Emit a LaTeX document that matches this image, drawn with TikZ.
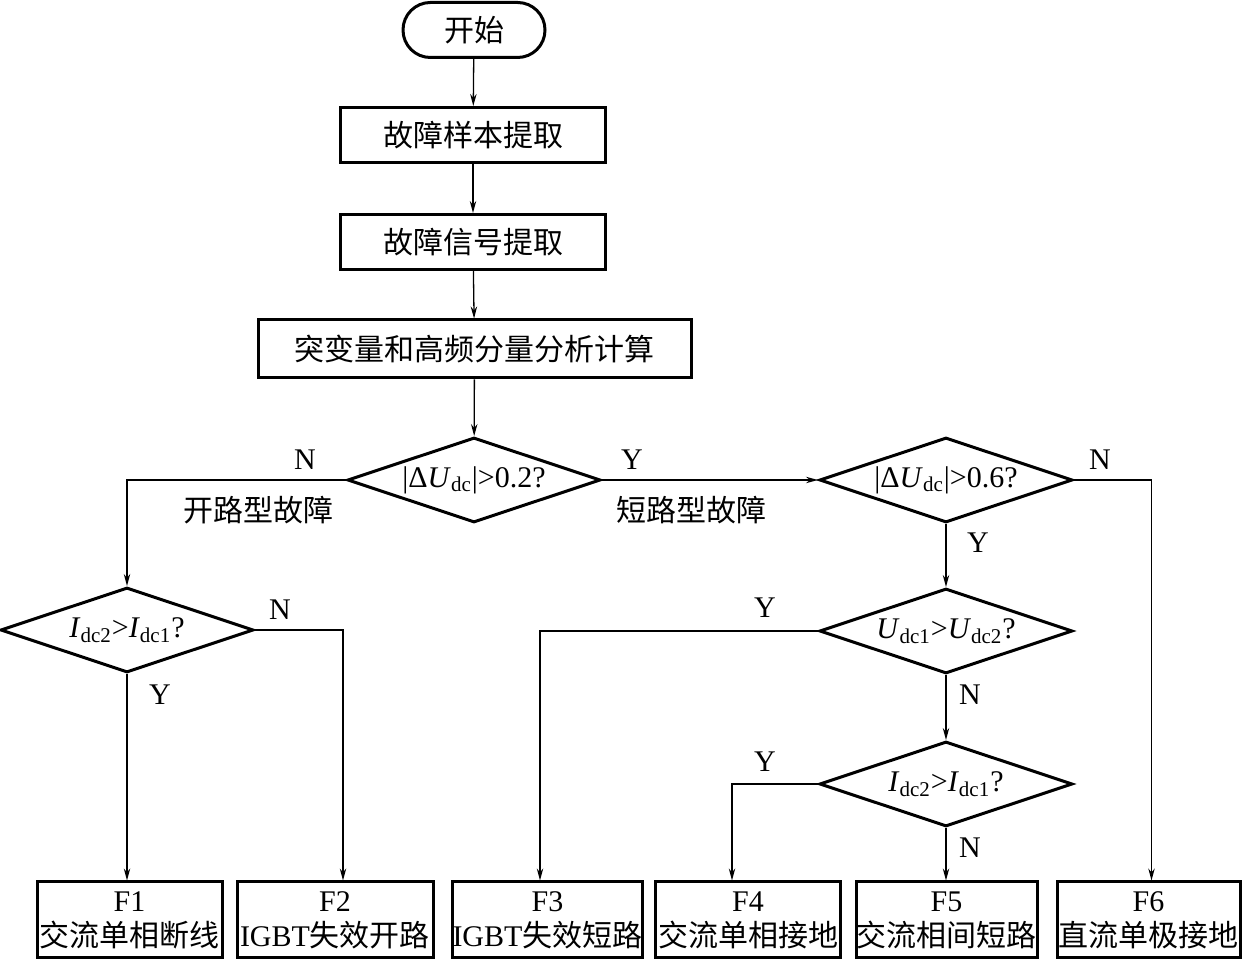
\documentclass[tikz,border=0pt]{standalone}
\usepackage{fontspec}
\setmainfont{Liberation Serif}
\newfontfamily\cjk{Noto Sans CJK SC}
\usetikzlibrary{arrows.meta,shapes.geometric}

\begin{document}
\begin{tikzpicture}[
  x=0.5pt,y=-0.5pt,
  font=\fontsize{15}{17.5}\selectfont,
  box/.style={draw,line width=1.5pt,align=center,inner sep=0pt,
    minimum height=27.5pt},
  start/.style={box,rounded corners=13.7pt,minimum width=71pt},
  fault/.style={box,minimum height=38pt},
  decision/.style={diamond,draw,line width=1.5pt,aspect=3,inner sep=0pt,
    minimum width=126.5pt,minimum height=42.5pt},
  arr/.style={-{Stealth[length=6pt,width=3.2pt]},line width=0.65pt},
  lbl/.style={inner sep=0pt}
]
\useasboundingbox (0,0) rectangle (1243,961);
\node[start] (begin) at (474,30) {\cjk 开始};
\node[box,minimum width=132.5pt] (sample) at (473,135) {\cjk 故障样本提取};
\node[box,minimum width=132.5pt] (signal) at (473,242) {\cjk 故障信号提取};
\node[box,minimum width=216.5pt,minimum height=29pt] (calc) at (474.5,349)
  {\cjk 突变量和高频分量分析计算};
\node[decision] (dU1) at (474,480)
  {|Δ\textit{U}\textsubscript{dc}|>0.2?};
\node[decision] (dU2) at (946,480)
  {|Δ\textit{U}\textsubscript{dc}|>0.6?};
\node[decision] (cmpI1) at (127,630)
  {\textit{I}\textsubscript{dc2}>\textit{I}\textsubscript{dc1}?};
\node[decision] (cmpU) at (946,631)
  {\textit{U}\textsubscript{dc1}>\textit{U}\textsubscript{dc2}?};
\node[decision] (cmpI2) at (946,784)
  {\textit{I}\textsubscript{dc2}>\textit{I}\textsubscript{dc1}?};
% fault classes
\node[fault,minimum width=92.5pt] (F1) at (129.5,920) {F1\\{\cjk 交流单相断线}};
\node[fault,minimum width=98pt] (F2) at (335,920) {F2\\IGBT{\cjk 失效开路}};
\node[fault,minimum width=94.5pt] (F3) at (547.5,920) {F3\\IGBT{\cjk 失效短路}};
\node[fault,minimum width=92.5pt] (F4) at (748,920) {F4\\{\cjk 交流单相接地}};
\node[fault,minimum width=90.5pt] (F5) at (946.5,920) {F5\\{\cjk 交流相间短路}};
\node[fault,minimum width=91.5pt] (F6) at (1148.5,920) {F6\\{\cjk 直流单极接地}};
% branch labels
\node[lbl] (n1) at (305,460) {N};
\node[lbl] (open) at (258,510) {\cjk 开路型故障};
\node[lbl] (y1) at (632,460) {Y};
\node[lbl] (short) at (691,510) {\cjk 短路型故障};
\node[lbl] (n2) at (1100,460) {N};
\node[lbl] (y2) at (978,543) {Y};
\node[lbl] (n3) at (280,610) {N};
\node[lbl] (y3) at (160,695) {Y};
\node[lbl] (y4) at (765,608) {Y};
\node[lbl] (n4) at (970,695) {N};
\node[lbl] (y5) at (765,762) {Y};
\node[lbl] (n5) at (970,848) {N};
\draw[arr] (begin) -- (sample);
\draw[arr] (sample) -- (signal);
\draw[arr] (signal) -- (calc);
\draw[arr] (calc) -- (dU1);
\draw[arr] (dU1) -- (dU2);
\draw[arr] (dU1.west) -| (cmpI1.north);
\draw[arr] (dU2.east) -| ([xshift=1.5pt]F6.north);
\draw[arr] (dU2) -- (cmpU);
\draw[arr] (cmpI1.south) -- (cmpI1.south |- F1.north);
\draw[arr] (cmpI1.east) -| ([xshift=4pt]F2.north);
\draw[arr] (cmpU.west) -| ([xshift=-3.75pt]F3.north);
\draw[arr] (cmpU) -- (cmpI2);
\draw[arr] (cmpI2.west) -| ([xshift=-8pt]F4.north);
\draw[arr] (cmpI2.south) -- (cmpI2.south |- F5.north);
\end{tikzpicture}
\end{document}
